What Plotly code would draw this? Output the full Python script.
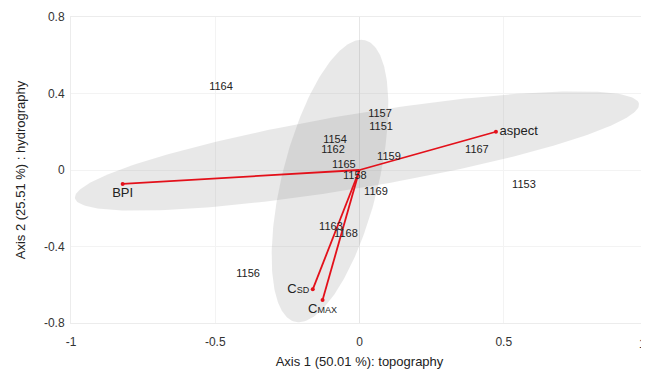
import numpy as np
import plotly.graph_objects as go

# ---- site scores (labels drawn as text) ----
site_ids = ["1164", "1157", "1151", "1154", "1162", "1165", "1158",
            "1159", "1169", "1163", "1168", "1156", "1167", "1153"]
site_x = [-0.480, 0.071, 0.075, -0.085, -0.092, -0.054, -0.016,
          0.102, 0.057, -0.099, -0.047, -0.386, 0.407, 0.570]
site_y = [0.434, 0.293, 0.225, 0.154, 0.103, 0.026, -0.031,
          0.068, -0.115, -0.298, -0.335, -0.544, 0.105, -0.078]

# ---- environmental vectors ----
var_names = ["BPI", "aspect",
             "C<span style='font-size:9px'>SD</span>",
             "C<span style='font-size:9px'>MAX</span>"]
var_x = [-0.821, 0.473, -0.162, -0.128]
var_y = [-0.073, 0.200, -0.624, -0.680]
var_textpos = ["bottom center", "middle right", "middle left", "bottom center"]

# ---- ellipses: centre and two half-axis vectors (data units) ----
ell_h_center = (-0.0087, 0.0993)
ell_h_axis1 = (0.9775, 0.2468)
ell_h_axis2 = (0.0211, -0.1908)
ell_v_center = (-0.1023, -0.0575)
ell_v_axis1 = (0.1217, 0.7357)
ell_v_axis2 = (0.1614, -0.0607)

# ---- axes ----
x_ticks = [-1, -0.5, 0, 0.5, 1]
x_tick_labels = ["-1", "-0.5", "0", "0.5", "1"]
y_ticks = [-0.8, -0.4, 0, 0.4, 0.8]
y_tick_labels = ["-0.8", "-0.4", "0", "0.4", "0.8"]
x_title = "Axis 1 (50.01 %): topography"
y_title = "Axis 2 (25.51 %) : hydrography"

FONT = "Liberation Sans, Arial, sans-serif"


def ellipse(center, a1, a2, n=240):
    t = np.linspace(0, 2 * np.pi, n)
    xs = center[0] + np.cos(t) * a1[0] + np.sin(t) * a2[0]
    ys = center[1] + np.cos(t) * a1[1] + np.sin(t) * a2[1]
    return xs, ys


fig = go.Figure()

for c, a1, a2 in [(ell_h_center, ell_h_axis1, ell_h_axis2),
                  (ell_v_center, ell_v_axis1, ell_v_axis2)]:
    ex, ey = ellipse(c, a1, a2)
    fig.add_trace(go.Scatter(x=ex, y=ey, mode="lines", fill="toself",
                             fillcolor="rgba(128,128,128,0.18)",
                             line=dict(width=0, color="rgba(0,0,0,0)"),
                             hoverinfo="skip", showlegend=False))

# vector lines
for vx, vy in zip(var_x, var_y):
    fig.add_trace(go.Scatter(x=[0, vx], y=[0, vy], mode="lines",
                             line=dict(color="#e3101a", width=1.8),
                             hoverinfo="skip", showlegend=False))

fig.add_trace(go.Scatter(x=var_x, y=var_y, mode="markers+text",
                         text=var_names, textposition=var_textpos,
                         marker=dict(color="#e3101a", size=4),
                         textfont=dict(family=FONT, size=13, color="#222"),
                         hoverinfo="skip", showlegend=False))

fig.add_trace(go.Scatter(x=site_x, y=site_y, mode="text", text=site_ids,
                         textposition="middle center",
                         textfont=dict(family=FONT, size=11, color="#222"),
                         hoverinfo="skip", showlegend=False))

# the last x tick label sits at the window edge: draw it right-aligned
last_label = x_tick_labels[-1]
shown_x_labels = x_tick_labels[:-1] + [""]
fig.add_annotation(x=x_ticks[-1], xref="x", y=0, yref="paper",
                   text=last_label, showarrow=False,
                   xanchor="right", yanchor="top", yshift=-12,
                   font=dict(family=FONT, size=12, color="#333"))

# the page body adds an 8px offset, so the figure is sized to fit the window
fig.update_layout(
    width=641, height=366,
    margin=dict(l=63, r=1, t=9, b=51, autoexpand=False),
    paper_bgcolor="white", plot_bgcolor="white",
    font=dict(family=FONT, color="#333"),
    showlegend=False,
)
fig.update_xaxes(range=[-1, 1], tickvals=x_ticks, ticktext=shown_x_labels,
                 automargin=False,
                 showgrid=True, gridcolor="#f3f3f3", zeroline=True,
                 zerolinecolor="#e6e6e6", zerolinewidth=1,
                 showline=True, linecolor="#ececec", mirror=True,
                 ticks="outside", ticklen=8, tickcolor="rgba(0,0,0,0)",
                 tickfont=dict(family=FONT, size=12, color="#333"),
                 title=dict(text=x_title, font=dict(family=FONT, size=13, color="#222"),
                            standoff=8))
fig.update_yaxes(range=[-0.8, 0.8], tickvals=y_ticks, ticktext=y_tick_labels,
                 showgrid=True, gridcolor="#f3f3f3", zeroline=False,
                 showline=True, linecolor="#ececec", mirror=True,
                 ticks="outside", ticklen=3, tickcolor="rgba(0,0,0,0)",
                 tickfont=dict(family=FONT, size=12, color="#333"),
                 title=dict(text=y_title, font=dict(family=FONT, size=13, color="#222"),
                            standoff=15))

fig.write_html("out.html")
